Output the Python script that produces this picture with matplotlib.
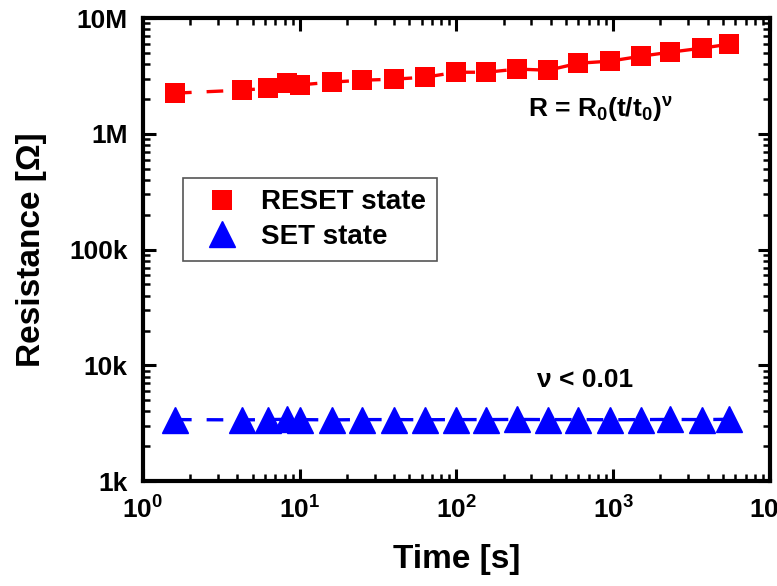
from matplotlib import pyplot as plt
from matplotlib import ticker
import numpy as np

plt.rcParams['font.family'] = ['Liberation Sans', 'DejaVu Sans']
plt.rcParams['font.weight'] = 'bold'
plt.rcParams['mathtext.fontset'] = 'custom'
plt.rcParams['mathtext.rm'] = 'Liberation Sans:bold'
plt.rcParams['mathtext.it'] = 'Liberation Sans:bold'
plt.rcParams['mathtext.bf'] = 'Liberation Sans:bold'
plt.rcParams['mathtext.default'] = 'rm'

# time [s]
t = [1.6, 4.3, 6.3, 8.3, 10, 16, 25, 40, 63, 100, 155, 245, 385, 600, 950,
     1500, 2300, 3700, 5500]
# resistance [Ohm]
r_reset = [2.25e6, 2.39e6, 2.48e6, 2.74e6, 2.65e6, 2.80e6, 2.91e6, 2.97e6,
           3.09e6, 3.41e6, 3.41e6, 3.63e6, 3.55e6, 4.08e6, 4.25e6, 4.69e6,
           5.08e6, 5.51e6, 5.96e6]
r_set = [3.40e3, 3.38e3, 3.40e3, 3.42e3, 3.40e3, 3.38e3, 3.40e3, 3.40e3,
         3.39e3, 3.40e3, 3.40e3, 3.41e3, 3.40e3, 3.40e3, 3.39e3, 3.40e3,
         3.41e3, 3.40e3, 3.42e3]

yticks = [1e3, 1e4, 1e5, 1e6, 1e7]
yticklabels = ['1k', '10k', '100k', '1M', '10M']

fig = plt.figure(figsize=(7.77, 5.86), dpi=100)
ax = fig.add_axes([0.184, 0.179, 0.807, 0.790])

ax.plot(t, r_reset, color='red', lw=2.4, dashes=(5, 4.5), zorder=2)
ax.plot(t, r_set, color='blue', lw=2.4, dashes=(5, 4.5), zorder=2)
ax.plot(t, r_reset, 's', color='red', ms=14.5, mew=0, ls='none',
        label='RESET state', zorder=3)
ax.plot(t, r_set, '^', color='blue', ms=19, mew=1, mec='blue', ls='none',
        label='SET state', zorder=3)

ax.set_xscale('log')
ax.set_yscale('log')
ax.set_xlim(1, 1e4)
ax.set_ylim(1e3, 1e7)
ax.set_yticks(yticks)
ax.yaxis.set_major_formatter(ticker.FixedFormatter(yticklabels))
ax.yaxis.set_minor_formatter(ticker.NullFormatter())

for s in ax.spines.values():
    s.set_linewidth(3)
ax.tick_params(which='both', direction='in', top=True, right=True)
ax.tick_params(which='major', length=9, width=2.2, labelsize=19, pad=11)
ax.tick_params(which='minor', length=5, width=1.8)

ax.set_xlabel('Time [s]', fontsize=24, fontweight='bold', labelpad=15)
ax.set_ylabel('Resistance [\u03a9]', fontsize=24, fontweight='bold', labelpad=16)

ax.text(0.614, 0.786, r'R = R$_0$(t/t$_0$)$^{\nu}$', transform=ax.transAxes,
        fontsize=19, fontweight='bold', va='baseline')
ax.text(0.628, 0.203, '\u03bd < 0.01', transform=ax.transAxes,
        fontsize=19, fontweight='bold', va='baseline')

leg = ax.legend(loc='upper left', bbox_to_anchor=(0.064, 0.654), fontsize=20,
                fancybox=False, edgecolor='#555555', framealpha=1,
                borderaxespad=0, labelspacing=0.3, handletextpad=0.4)
leg.get_frame().set_linewidth(1.2)

plt.savefig('out.png', dpi=100)
